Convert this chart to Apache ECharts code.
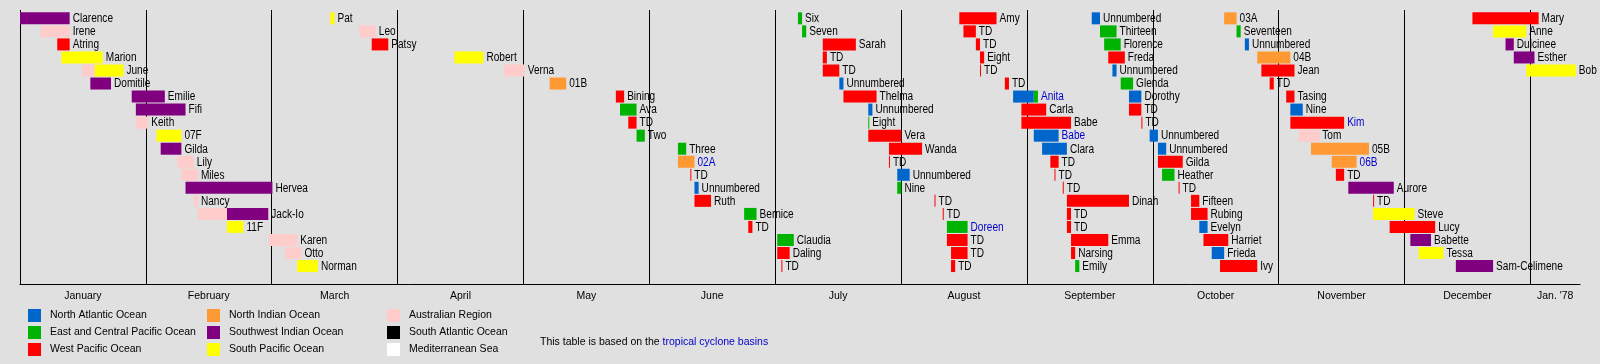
<!DOCTYPE html>
<html>
<head>
<meta charset="utf-8">
<script src="https://cdn.jsdelivr.net/npm/echarts@6/dist/echarts.min.js"></script>
<style>
html,body{margin:0;padding:0;background:#e0e0e0;}
#chart{width:1600px;height:364px;}
</style>
</head>
<body>
<div id="chart"></div>
<script>
// ---------- data ----------
const basinCodes  = ['ATL', 'EPAC', 'WPAC', 'NIO', 'SWI', 'SPAC', 'AUS', 'SATL', 'MED'];
const basinNames  = ['North Atlantic Ocean', 'East and Central Pacific Ocean', 'West Pacific Ocean',
                     'North Indian Ocean', 'Southwest Indian Ocean', 'South Pacific Ocean',
                     'Australian Region', 'South Atlantic Ocean', 'Mediterranean Sea'];
const basinColors = ['#0066cc', '#00b300', '#ff0000', '#ff9933', '#800080', '#ffff00', '#ffcccc', '#000000', '#ffffff'];

const monthLabels = ['January', 'February', 'March', 'April', 'May', 'June', 'July',
                     'August', 'September', 'October', 'November', 'December', "Jan. '78"];
const periodStart = '1977-01-01';
const periodEnd   = '1978-01-13';

const noteText = 'This table is based on the ';
const noteLink = 'tropical cyclone basins';

// name, basin, from, till (1977 unless a year is given), linked?, second basin, second till
const storms = [
  ['Clarence', 'SWI', '01-01', '01-13'],
  ['Irene', 'AUS', '01-06', '01-13'],
  ['Atring', 'WPAC', '01-10', '01-13'],
  ['Marion', 'SPAC', '01-11', '01-21'],
  ['June', 'AUS', '01-16', '01-19', 0, 'SPAC', '01-26'],
  ['Domitile', 'SWI', '01-18', '01-23'],
  ['Emilie', 'SWI', '01-28', '02-05'],
  ['Fifi', 'SWI', '01-29', '02-10'],
  ['Keith', 'AUS', '01-29', '02-01'],
  ['07F', 'SPAC', '02-03', '02-09'],
  ['Gilda', 'SWI', '02-04', '02-09'],
  ['Lily', 'AUS', '02-08', '02-12'],
  ['Miles', 'AUS', '02-09', '02-13'],
  ['Hervea', 'SWI', '02-10', '03-03'],
  ['Nancy', 'AUS', '02-12', '02-13'],
  ['Jack-Io', 'AUS', '02-13', '02-20', 0, 'SWI', '03-02'],
  ['11F', 'SPAC', '02-20', '02-24'],
  ['Karen', 'AUS', '03-02', '03-09'],
  ['Otto', 'AUS', '03-06', '03-10'],
  ['Norman', 'SPAC', '03-09', '03-14'],
  ['Pat', 'SPAC', '03-17', '03-18'],
  ['Leo', 'AUS', '03-24', '03-28'],
  ['Patsy', 'WPAC', '03-27', '03-31'],
  ['Robert', 'SPAC', '04-16', '04-23'],
  ['Verna', 'AUS', '04-28', '05-03'],
  ['01B', 'NIO', '05-09', '05-13'],
  ['Bining', 'WPAC', '05-25', '05-27'],
  ['Ava', 'EPAC', '05-26', '05-30'],
  ['TD', 'WPAC', '05-28', '05-30'],
  ['Two', 'EPAC', '05-30', '06-01'],
  ['Three', 'EPAC', '06-09', '06-11'],
  ['02A', 'NIO', '06-09', '06-13', 1],
  ['TD', 'WPAC', '06-12', '06-12'],
  ['Unnumbered', 'ATL', '06-13', '06-14'],
  ['Ruth', 'WPAC', '06-13', '06-17'],
  ['Bernice', 'EPAC', '06-25', '06-28'],
  ['TD', 'WPAC', '06-26', '06-27'],
  ['Claudia', 'EPAC', '07-03', '07-07'],
  ['Daling', 'WPAC', '07-03', '07-06'],
  ['TD', 'WPAC', '07-04', '07-04'],
  ['Six', 'EPAC', '07-08', '07-09'],
  ['Seven', 'EPAC', '07-09', '07-10'],
  ['Sarah', 'WPAC', '07-14', '07-22'],
  ['TD', 'WPAC', '07-14', '07-15'],
  ['TD', 'WPAC', '07-14', '07-18'],
  ['Unnumbered', 'ATL', '07-18', '07-19'],
  ['Thelma', 'WPAC', '07-19', '07-27'],
  ['Unnumbered', 'ATL', '07-25', '07-26'],
  ['Eight', 'EPAC', '07-25', '07-25'],
  ['Vera', 'WPAC', '07-25', '08-02'],
  ['Wanda', 'WPAC', '07-30', '08-07'],
  ['TD', 'WPAC', '07-30', '07-30'],
  ['Unnumbered', 'ATL', '08-01', '08-04'],
  ['Nine', 'EPAC', '08-01', '08-02'],
  ['TD', 'WPAC', '08-10', '08-10'],
  ['TD', 'WPAC', '08-12', '08-12'],
  ['Doreen', 'EPAC', '08-13', '08-18', 1],
  ['TD', 'WPAC', '08-13', '08-18'],
  ['TD', 'WPAC', '08-14', '08-18'],
  ['TD', 'WPAC', '08-14', '08-15'],
  ['Amy', 'WPAC', '08-16', '08-25'],
  ['TD', 'WPAC', '08-17', '08-20'],
  ['TD', 'WPAC', '08-20', '08-21'],
  ['Eight', 'WPAC', '08-21', '08-22'],
  ['TD', 'WPAC', '08-21', '08-21'],
  ['TD', 'WPAC', '08-27', '08-28'],
  ['Anita', 'ATL', '08-29', '09-03', 1, 'EPAC', '09-04'],
  ['Carla', 'WPAC', '08-31', '09-06'],
  ['Babe', 'WPAC', '08-31', '09-12'],
  ['Babe', 'ATL', '09-03', '09-09', 1],
  ['Clara', 'ATL', '09-05', '09-11'],
  ['TD', 'WPAC', '09-07', '09-09'],
  ['TD', 'WPAC', '09-08', '09-08'],
  ['TD', 'WPAC', '09-10', '09-10'],
  ['Dinah', 'WPAC', '09-11', '09-26'],
  ['TD', 'WPAC', '09-11', '09-12'],
  ['TD', 'WPAC', '09-11', '09-12'],
  ['Emma', 'WPAC', '09-12', '09-21'],
  ['Narsing', 'WPAC', '09-12', '09-13'],
  ['Emily', 'EPAC', '09-13', '09-14'],
  ['Unnumbered', 'ATL', '09-17', '09-19'],
  ['Thirteen', 'EPAC', '09-19', '09-23'],
  ['Florence', 'EPAC', '09-20', '09-24'],
  ['Freda', 'WPAC', '09-21', '09-25'],
  ['Unnumbered', 'ATL', '09-22', '09-23'],
  ['Glenda', 'EPAC', '09-24', '09-27'],
  ['Dorothy', 'ATL', '09-26', '09-29'],
  ['TD', 'WPAC', '09-26', '09-29'],
  ['TD', 'WPAC', '09-29', '09-29'],
  ['Unnumbered', 'ATL', '10-01', '10-03'],
  ['Unnumbered', 'ATL', '10-03', '10-05'],
  ['Gilda', 'WPAC', '10-03', '10-09'],
  ['Heather', 'EPAC', '10-04', '10-07'],
  ['TD', 'WPAC', '10-08', '10-08'],
  ['Fifteen', 'WPAC', '10-11', '10-13'],
  ['Rubing', 'WPAC', '10-11', '10-15'],
  ['Evelyn', 'ATL', '10-13', '10-15'],
  ['Harriet', 'WPAC', '10-14', '10-20'],
  ['Frieda', 'ATL', '10-16', '10-19'],
  ['Ivy', 'WPAC', '10-18', '10-27'],
  ['03A', 'NIO', '10-19', '10-22'],
  ['Seventeen', 'EPAC', '10-22', '10-23'],
  ['Unnumbered', 'ATL', '10-24', '10-25'],
  ['04B', 'NIO', '10-27', '11-04'],
  ['Jean', 'WPAC', '10-28', '11-05'],
  ['TD', 'WPAC', '10-30', '10-31'],
  ['Tasing', 'WPAC', '11-03', '11-05'],
  ['Nine', 'ATL', '11-04', '11-07'],
  ['Kim', 'WPAC', '11-04', '11-17', 1],
  ['Tom', 'AUS', '11-06', '11-11'],
  ['05B', 'NIO', '11-09', '11-23'],
  ['06B', 'NIO', '11-14', '11-20', 1],
  ['TD', 'WPAC', '11-15', '11-17'],
  ['Aurore', 'SWI', '11-18', '11-29'],
  ['TD', 'WPAC', '11-24', '11-24'],
  ['Steve', 'SPAC', '11-24', '12-04'],
  ['Lucy', 'WPAC', '11-28', '12-09'],
  ['Babette', 'SWI', '12-03', '12-08'],
  ['Tessa', 'SPAC', '12-05', '12-11'],
  ['Sam-Celimene', 'SWI', '12-14', '12-23'],
  ['Mary', 'WPAC', '12-18', '1978-01-03'],
  ['Anne', 'SPAC', '12-23', '12-31'],
  ['Dulcinee', 'SWI', '12-26', '12-28'],
  ['Esther', 'SWI', '12-28', '1978-01-02'],
  ['Bob', 'SPAC', '12-31', '1978-01-12']
];

// ---------- build ----------
const ROWS = 20;
const FONT = '"Liberation Sans", Arial, sans-serif';
const LINK = '#0000cc';
const NARROW = 0.84;   // horizontal squeeze of the narrow label face

function dayIndex(s) {
  const full = s.length === 5 ? '1977-' + s : s;
  const [y, m, d] = full.split('-').map(Number);
  const [y0, m0, d0] = periodStart.split('-').map(Number);
  return (Date.UTC(y, m - 1, d) - Date.UTC(y0, m0 - 1, d0)) / 864e5;
}
const endDay = dayIndex(periodEnd);
const yearDays = dayIndex('1978-01-01');
const step = yearDays / 12;
const gridDays = [];
for (let i = 0; i <= 12; i++) gridDays.push(i * step);
const labelDays = [];
for (let i = 0; i < 12; i++) labelDays.push((i + 0.5) * step);
labelDays.push((yearDays + endDay) / 2);

const items = basinCodes.map(() => []);
storms.forEach((s, i) => {
  const [name, b1, from, till, link, b2, till2] = s;
  const row = i % ROWS;
  if (b2) {
    items[basinCodes.indexOf(b1)].push({ v: [dayIndex(from), dayIndex(till), row], label: '', link: false });
    items[basinCodes.indexOf(b2)].push({ v: [dayIndex(till), dayIndex(till2), row], label: name, link: !!link });
  } else {
    items[basinCodes.indexOf(b1)].push({ v: [dayIndex(from), dayIndex(till), row], label: name, link: !!link });
  }
});

const series = basinCodes.map((code, k) => ({
  type: 'custom',
  name: basinNames[k],
  itemStyle: { color: basinColors[k] },
  clip: false,
  encode: { x: [0, 1], y: 2 },
  data: items[k].map(it => it.v),
  renderItem: function (params, api) {
    const it = items[k][params.dataIndex];
    const p0 = api.coord([api.value(0), api.value(2)]);
    const p1 = api.coord([api.value(1), api.value(2)]);
    const h = 12;
    const w = Math.max(p1[0] - p0[0], 1);
    const children = [{
      type: 'rect',
      shape: { x: p0[0], y: p0[1] - h / 2, width: w, height: h },
      style: { fill: basinColors[k] }
    }];
    if (it.label) {
      children.push({
        type: 'text',
        x: p0[0] + w + 3, y: p0[1] + 0.5,
        scaleX: NARROW, scaleY: 1,
        style: {
          text: it.label, x: 0, y: 0,
          fill: it.link ? LINK : '#000', font: '12px ' + FONT,
          align: 'left', verticalAlign: 'middle',
          textAlign: 'left', textVerticalAlign: 'middle'
        }
      });
    }
    return { type: 'group', children };
  }
}));

function nearestLabel(v) {
  let best = 0, bd = Infinity;
  labelDays.forEach((d, i) => { const dd = Math.abs(d - v); if (dd < bd) { bd = dd; best = i; } });
  return monthLabels[best];
}

const legendLefts = [28, 207, 387];
const legends = [0, 1, 2].map(c => ({
  data: basinNames.slice(c * 3, c * 3 + 3),
  orient: 'vertical', left: legendLefts[c], top: 309,
  itemWidth: 13, itemHeight: 13, itemGap: 4, icon: 'rect',
  selectedMode: false, padding: 0,
  itemStyle: { borderWidth: 0 },
  textStyle: { fontFamily: FONT, fontSize: 10.5, color: '#000', lineHeight: 13, padding: [0, 0, 0, 4] }
}));

const chart = echarts.init(document.getElementById('chart'), null, { renderer: 'canvas' });
chart.setOption({
  animation: false,
  backgroundColor: '#e0e0e0',
  grid: { left: 20, right: 20, top: 10, height: 274.3, containLabel: false, outerBoundsMode: 'none' },
  xAxis: {
    type: 'value', min: 0, max: endDay, interval: step,
    axisLine: { show: true, onZero: false, lineStyle: { color: '#000', width: 1 } },
    axisTick: { show: true, inside: true, length: 3, lineStyle: { color: '#000' }, customValues: gridDays },
    splitLine: { show: true, lineStyle: { color: '#000', width: 1 } },
    axisLabel: {
      customValues: labelDays, formatter: v => nearestLabel(v),
      color: '#000', fontSize: 10.5, fontFamily: FONT, margin: 6
    }
  },
  yAxis: { type: 'value', inverse: true, min: -0.64, max: 20.4, show: false },
  legend: legends,
  graphic: [{
    type: 'text', left: 540, top: 337,
    style: {
      text: '{a|' + noteText + '}{b|' + noteLink + '}',
      font: '10.5px ' + FONT,
      rich: {
        a: { fill: '#000', fontSize: 10.5, fontFamily: FONT },
        b: { fill: LINK, fontSize: 10.5, fontFamily: FONT }
      }
    }
  }],
  series: series
});
</script>
</body>
</html>
